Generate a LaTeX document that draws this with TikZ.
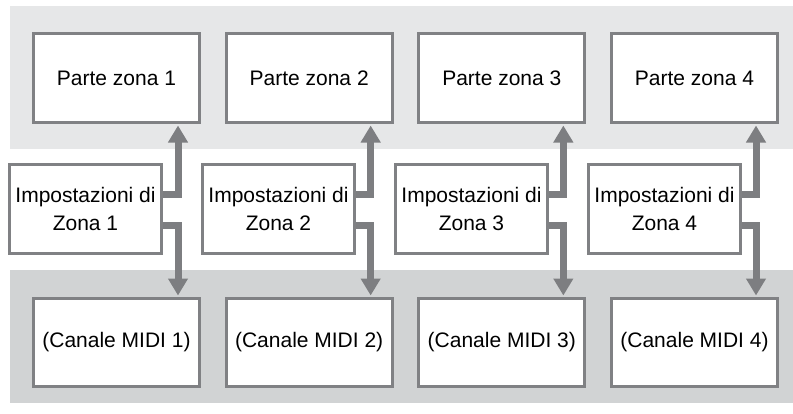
\documentclass[tikz,border=0pt]{standalone}
\usepackage{fontspec}
\setmainfont{Liberation Sans}
\usetikzlibrary{arrows.meta}
\definecolor{boxgray}{RGB}{128,129,132}
\definecolor{arrgray}{RGB}{125,126,129}
\definecolor{topband}{RGB}{230,231,232}
\definecolor{botband}{RGB}{209,211,212}
\begin{document}
\begin{tikzpicture}[x=1pt,y=-1pt,
  box/.style={draw=boxgray, line width=3pt, fill=white, inner sep=2pt,
    font=\fontsize{21}{28}\selectfont, align=center},
  topbox/.style={box, minimum width=166pt, minimum height=89pt},
  impbox/.style={box, minimum width=152pt, minimum height=89pt},
  botbox/.style={box, minimum width=166pt, minimum height=88pt},
  arr/.style={draw=arrgray, line width=7pt, -{Triangle[width=19pt,length=17pt]}}]
\useasboundingbox (0,0) rectangle (793,413);
\fill[topband] (10,6) rectangle (793,149);
\fill[botband] (10,270) rectangle (793,403);
\foreach \i in {1,...,4} {
  \node[topbox] (t\i) at ({116.5+192.67*(\i-1)},78) {Parte zona \i};
  \node[impbox] (i\i) at ({85.5+193*(\i-1)},209) {Impostazioni di\\Zona \i};
  \node[botbox] (b\i) at ({116.5+192.67*(\i-1)},342.5) {(Canale MIDI \i)};
  \draw[arr] ([yshift=14.5pt]i\i.east) -| ([xshift=61.5pt,yshift=-1.5pt]t\i.south);
  \draw[arr] ([yshift=-16pt]i\i.east) -| ([xshift=61.5pt,yshift=1.5pt]b\i.north);
}
\end{tikzpicture}
\end{document}
